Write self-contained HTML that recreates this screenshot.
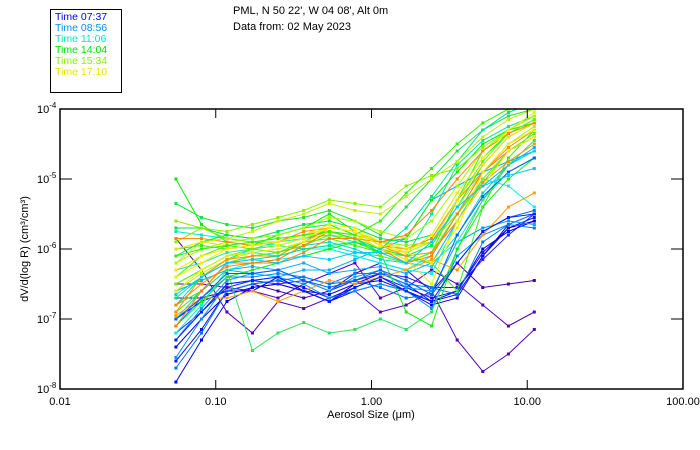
<!DOCTYPE html>
<html><head><meta charset="utf-8"><style>
body{margin:0;background:#fff;}
svg{display:block;font-family:"Liberation Sans",sans-serif;}
</style></head><body>
<svg id="chart" width="700" height="450" viewBox="0 0 700 450" xmlns="http://www.w3.org/2000/svg">
<defs><clipPath id="pc"><rect x="60" y="109" width="623" height="280"/></clipPath></defs>
<g font-size="11" fill="#000">
<text x="233" y="14">PML, N 50 22', W 04 08', Alt 0m</text>
<text x="233" y="30">Data from: 02 May 2023</text>
</g>
<g font-size="10.5">
<rect x="50.5" y="9.5" width="71" height="83" fill="none" stroke="#000"/>
<text x="55" y="20" fill="#0000ff">Time 07:37</text>
<text x="55" y="31" fill="#0090ff">Time 08:56</text>
<text x="55" y="42" fill="#00e8c0">Time 11:06</text>
<text x="55" y="53" fill="#00e000">Time 14:04</text>
<text x="55" y="64" fill="#88f000">Time 15:34</text>
<text x="55" y="75" fill="#f0e000">Time 17:10</text>
</g>
<g id="series" clip-path="url(#pc)"></g>
<rect x="60" y="109" width="623" height="280" fill="none" stroke="#000" stroke-width="1.5"/>
<g id="axes" font-size="11" fill="#000"></g>
<text x="371" y="418" font-size="11" text-anchor="middle">Aerosol Size (μm)</text>
<text transform="translate(28,249) rotate(-90)" font-size="11" text-anchor="middle">dV/d(log R) (cm³/cm³)</text>
</svg>
<script>
const sizes=[0.0555,0.081,0.118,0.172,0.251,0.367,0.536,0.782,1.14,1.67,2.43,3.55,5.18,7.57,11.1];
const xTicks=[0.01,0.1,1,10,100];
const xTickLabels=["0.01","0.10","1.00","10.00","100.00"];
const yTickExps=[-4,-5,-6,-7,-8];
const seriesColors=["#0000ff","#1010e8","#0a00f0","#2020ff","#0000e0","#5500bb","#4400aa","#5000c0",
"#0090ff","#00a0ff","#0080f0","#10a8ff","#00b0f8","#0070ff",
"#00e8c0","#00f0e0","#00d8d0","#00e0b0","#00f0f0","#20e0c8",
"#00ee00","#20e040","#00f030","#40f000","#30e060","#10f010","#00e050","#30ee20",
"#88f000","#a0ff00","#70f000","#b0f000","#90e800","#60f000",
"#ff8800","#ff9000","#ff8000","#ffa000","#f0e000","#ffe800","#e8f000",
"#0020ff","#0060ff","#00e090","#30f000","#c0f000","#ff8800","#f0f000","#00c8ff"];
// log10 values of dV/d(log R) for each scan
const s1=[-7.9,-7.3,-6.75,-6.55,-6.5,-6.6,-6.65,-6.5,-6.35,-6.5,-6.75,-6.65,-6.1,-5.65,-5.5];
const s2=[-7.6,-7.15,-6.6,-6.5,-6.45,-6.55,-6.7,-6.55,-6.4,-6.55,-6.7,-6.6,-6.05,-5.7,-5.55];
const s3=[-7.4,-7.0,-6.65,-6.55,-6.5,-6.6,-6.75,-6.6,-6.5,-6.6,-6.8,-6.7,-6.1,-5.7,-5.6];
const s4=[-7.2,-6.9,-6.55,-6.45,-6.5,-6.45,-6.6,-6.45,-6.35,-6.4,-6.55,-6.55,-6.15,-5.8,-5.5];
const s5=[-7.0,-6.75,-6.6,-6.6,-6.4,-6.6,-6.75,-6.5,-6.45,-6.6,-6.75,-6.6,-6.0,-5.75,-5.6];
const s6=[-5.85,-6.3,-6.9,-7.2,-6.75,-6.85,-6.7,-6.6,-6.9,-6.8,-6.6,-7.3,-7.75,-7.5,-7.15];
const s7=[-6.7,-6.7,-6.6,-6.5,-6.6,-6.7,-6.6,-6.35,-6.2,-6.3,-6.6,-6.2,-6.55,-6.5,-6.45];
const s8=[-6.5,-6.5,-6.55,-6.6,-6.7,-6.5,-6.35,-6.2,-6.7,-6.55,-6.3,-6.5,-6.8,-7.1,-6.9];
const s9=[-7.55,-7.0,-6.5,-6.45,-6.4,-6.5,-6.7,-6.6,-6.5,-6.6,-6.85,-6.1,-5.8,-5.65,-5.5];
const s10=[-7.3,-6.85,-6.45,-6.35,-6.3,-6.45,-6.6,-6.4,-6.3,-6.55,-6.6,-5.9,-5.7,-5.6,-5.65];
const s11=[-7.1,-6.7,-6.4,-6.4,-6.35,-6.4,-6.5,-6.35,-6.35,-6.5,-6.55,-6.65,-5.9,-5.65,-5.7];
const s12=[-6.9,-6.6,-6.3,-6.25,-6.3,-6.2,-6.35,-6.3,-6.25,-6.35,-6.2,-5.6,-5.1,-4.8,-4.55];
const s13=[-6.6,-6.45,-6.3,-6.35,-6.4,-6.3,-6.3,-6.15,-6.0,-5.85,-5.3,-5.1,-4.9,-4.75,-4.6];
const s14=[-7.7,-7.2,-6.6,-6.5,-6.45,-6.4,-6.5,-6.45,-6.55,-6.7,-6.65,-6.2,-5.75,-5.55,-5.45];
const s15=[-5.75,-5.8,-5.85,-5.9,-5.95,-6.0,-5.95,-6.05,-6.1,-6.2,-6.05,-5.6,-5.0,-4.6,-4.4];
const s16=[-7.2,-6.8,-6.3,-6.2,-6.15,-6.1,-6.0,-6.1,-6.2,-6.3,-6.1,-5.5,-4.9,-4.5,-4.3];
const s17=[-7.0,-6.6,-6.2,-6.1,-6.05,-5.95,-5.9,-6.0,-6.15,-6.2,-6.25,-5.8,-5.2,-4.8,-4.6];
const s18=[-6.8,-6.4,-6.15,-6.0,-5.95,-5.85,-5.75,-5.85,-6.05,-6.1,-5.5,-4.8,-4.45,-4.25,-4.1];
const s19=[-6.5,-6.3,-6.1,-6.05,-6.1,-6.0,-6.0,-6.1,-6.2,-6.3,-6.35,-5.6,-5.0,-5.1,-5.4];
const s20=[-6.3,-6.2,-6.05,-6.0,-5.9,-5.85,-5.8,-5.9,-6.0,-6.15,-6.2,-5.9,-5.3,-4.9,-4.7];
const s21=[-5.0,-5.65,-5.9,-5.95,-5.8,-5.7,-5.5,-5.75,-5.9,-5.85,-5.3,-4.9,-4.5,-4.3,-4.2];
const s22=[-5.35,-5.55,-5.65,-5.7,-5.6,-5.55,-5.45,-5.6,-5.8,-5.4,-5.0,-4.6,-4.3,-4.1,-4.0];
const s23=[-6.1,-5.9,-5.8,-5.85,-5.8,-5.7,-5.65,-5.8,-6.0,-6.1,-5.95,-5.4,-4.8,-4.4,-4.2];
const s24=[-6.4,-6.1,-5.95,-6.0,-6.05,-5.9,-5.85,-5.95,-6.05,-6.2,-6.05,-5.3,-4.6,-4.3,-4.2];
const s25=[-6.8,-6.6,-6.3,-7.45,-7.2,-7.05,-7.2,-7.15,-7.0,-7.15,-6.9,-6.0,-5.3,-4.8,-4.45];
const s26=[-7.1,-6.75,-6.4,-6.3,-6.2,-6.1,-6.0,-5.9,-6.05,-6.9,-7.1,-6.0,-5.4,-5.0,-4.7];
const s27=[-5.7,-5.7,-5.8,-5.85,-5.75,-5.65,-5.6,-5.7,-5.85,-5.9,-5.8,-5.2,-4.7,-4.35,-4.15];
const s28=[-6.0,-5.95,-6.0,-5.95,-5.9,-5.8,-5.75,-5.85,-6.0,-6.1,-6.2,-6.6,-5.4,-4.7,-4.3];
const s29=[-5.9,-5.7,-5.75,-5.65,-5.55,-5.45,-5.3,-5.35,-5.4,-5.1,-4.95,-4.85,-4.55,-4.3,-4.1];
const s30=[-6.2,-6.0,-5.9,-5.85,-5.8,-5.7,-5.55,-5.6,-5.75,-5.85,-5.6,-5.1,-4.6,-4.3,-4.1];
const s31=[-6.5,-6.3,-6.1,-6.0,-5.95,-5.85,-5.7,-5.75,-5.95,-6.0,-5.85,-5.3,-4.75,-4.35,-4.15];
const s32=[-6.6,-6.35,-6.15,-6.05,-6.0,-5.9,-5.75,-5.8,-6.0,-6.05,-5.9,-5.4,-4.9,-4.5,-4.25];
const s33=[-5.6,-5.7,-5.85,-5.9,-5.9,-5.8,-5.75,-5.8,-5.9,-5.95,-5.9,-5.5,-5.0,-4.6,-4.4];
const s34=[-6.9,-6.6,-6.2,-6.1,-6.05,-5.95,-5.8,-5.85,-6.1,-6.2,-6.05,-5.5,-5.05,-4.6,-4.35];
const s35=[-5.85,-5.85,-5.9,-5.95,-5.9,-5.75,-5.7,-5.75,-5.95,-6.0,-5.85,-5.3,-4.9,-4.55,-4.3];
const s36=[-6.9,-6.4,-6.15,-6.1,-6.1,-5.9,-5.7,-5.75,-5.95,-6.1,-6.05,-5.6,-5.05,-4.75,-4.5];
const s37=[-7.1,-6.6,-6.2,-6.2,-6.15,-5.95,-5.75,-5.8,-6.0,-6.2,-6.1,-5.5,-4.9,-4.6,-4.4];
const s38=[-6.95,-6.7,-6.7,-6.6,-6.75,-6.6,-6.45,-6.5,-6.4,-6.3,-6.15,-6.3,-5.8,-5.4,-5.2];
const s39=[-6.0,-5.9,-5.95,-5.9,-5.85,-5.8,-5.7,-5.75,-5.9,-6.0,-5.9,-5.3,-4.8,-4.4,-4.2];
const s40=[-6.3,-6.1,-6.0,-5.95,-5.9,-5.8,-5.65,-5.7,-5.9,-6.05,-6.2,-5.7,-4.9,-4.5,-4.3];
const s41=[-6.6,-6.3,-6.1,-6.05,-6.0,-5.9,-5.75,-5.8,-6.0,-6.15,-6.5,-5.6,-5.1,-4.6,-4.4];
const s42=[-7.3,-6.9,-6.5,-6.45,-6.4,-6.6,-6.75,-6.55,-6.4,-6.6,-6.75,-6.2,-5.75,-5.55,-5.5];
const s43=[-7.0,-6.7,-6.35,-6.35,-6.3,-6.45,-6.55,-6.45,-6.3,-6.45,-6.65,-5.8,-5.25,-4.9,-4.7];
const s44=[-6.7,-6.4,-6.2,-6.15,-6.1,-6.0,-5.95,-5.9,-6.0,-5.7,-5.25,-4.75,-4.3,-4.05,-3.9];
const s45=[-6.1,-6.0,-5.95,-5.9,-5.85,-5.8,-5.75,-5.8,-5.6,-5.2,-4.85,-4.5,-4.2,-4.0,-3.9];
const s46=[-6.2,-5.9,-5.85,-5.75,-5.6,-5.5,-5.35,-5.45,-5.5,-5.25,-5.0,-4.75,-4.4,-4.15,-4.0];
const s47=[-6.8,-6.5,-6.25,-6.2,-6.2,-6.05,-5.85,-5.85,-5.9,-5.8,-5.45,-5.0,-4.6,-4.35,-4.2];
const s48=[-6.4,-6.2,-6.0,-5.95,-5.95,-5.85,-5.7,-5.75,-5.95,-6.05,-5.8,-5.2,-4.7,-4.3,-4.05];
const s49=[-6.65,-6.4,-6.2,-6.15,-6.2,-6.1,-6.15,-6.05,-6.05,-6.2,-5.9,-5.4,-5.1,-4.95,-4.85];
const allSeries=[s1,s2,s3,s4,s5,s6,s7,s8,s9,s10,s11,s12,s13,s14,s15,s16,s17,s18,s19,s20,s21,s22,s23,s24,s25,s26,s27,s28,s29,s30,s31,s32,s33,s34,s35,s36,s37,s38,s39,s40,s41,s42,s43,s44,s45,s46,s47,s48,s49];

const NS="http://www.w3.org/2000/svg";
const X0=60,X1=683,Y0=109,Y1=389;
function xScale(v){return X0+(Math.log10(v)+2)/4*(X1-X0);}
function yScale(e){return Y0+(-4-e)/4*(Y1-Y0);}
const sg=document.getElementById('series');
allSeries.forEach((vals,i)=>{
  const col=seriesColors[i%seriesColors.length];
  const g=document.createElementNS(NS,'g');
  
  
  const pl=document.createElementNS(NS,'polyline');
  pl.setAttribute('points',vals.map((e,j)=>xScale(sizes[j]).toFixed(1)+','+yScale(e).toFixed(1)).join(' '));
  pl.setAttribute('fill','none');
  pl.setAttribute('stroke',col);
  pl.setAttribute('stroke-width','1');
  g.appendChild(pl);
  vals.forEach((e,j)=>{
    const r=document.createElementNS(NS,'rect');
    
    
    r.setAttribute('x',xScale(sizes[j])-1.5);
    r.setAttribute('y',yScale(e)-1.5);
    r.setAttribute('width',3);
    r.setAttribute('height',3);
    r.setAttribute('fill',col);
    g.appendChild(r);
  });
  sg.appendChild(g);
});
const ax=document.getElementById('axes');
xTicks.forEach((v,i)=>{
  const x=xScale(v);
  [[Y1,Y1-9],[Y0,Y0+9]].forEach(p=>{
    const l=document.createElementNS(NS,'line');
    
    
    l.setAttribute('x1',x);
    l.setAttribute('x2',x);
    l.setAttribute('y1',p[0]);
    l.setAttribute('y2',p[1]);
    l.setAttribute('stroke','#000');
    ax.appendChild(l);
  });
  const t=document.createElementNS(NS,'text');
  
  
  t.setAttribute('x',x);
  t.setAttribute('y',405);
  t.setAttribute('text-anchor','middle');
  t.textContent=xTickLabels[i];
  ax.appendChild(t);
});
yTickExps.forEach(e=>{
  const y=yScale(e);
  [[X0,X0+12],[X1,X1-12]].forEach(p=>{
    const l=document.createElementNS(NS,'line');
    
    
    l.setAttribute('x1',p[0]);
    l.setAttribute('x2',p[1]);
    l.setAttribute('y1',y);
    l.setAttribute('y2',y);
    l.setAttribute('stroke','#000');
    ax.appendChild(l);
  });
  const t=document.createElementNS(NS,'text');
  
  
  t.setAttribute('x',37);
  t.setAttribute('y',y+4);
  t.innerHTML='10<tspan font-size="8" dy="-5">'+e+'</tspan>';
  ax.appendChild(t);
});
</script>
</body></html>
